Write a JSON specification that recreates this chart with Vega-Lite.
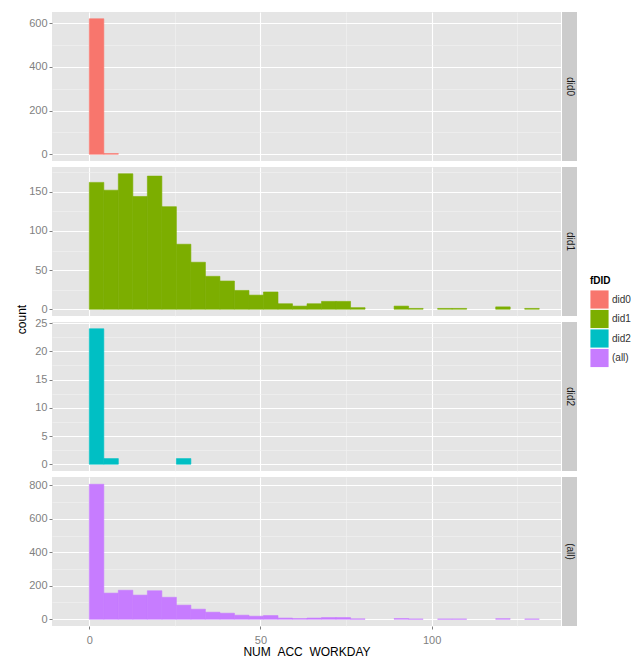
{
  "$schema": "https://vega.github.io/schema/vega-lite/v6.json",
  "padding": {"left": 15, "top": 12, "right": 0, "bottom": 0},
  "background": "white",
  "data": {"values": [
    {"f": "did0", "x0": 0, "x1": 4.24, "n": 620},
    {"f": "did0", "x0": 4.24, "x1": 8.48, "n": 3},
    {"f": "did1", "x0": 0, "x1": 4.24, "n": 162},
    {"f": "did1", "x0": 4.24, "x1": 8.48, "n": 152},
    {"f": "did1", "x0": 8.48, "x1": 12.72, "n": 173},
    {"f": "did1", "x0": 12.72, "x1": 16.96, "n": 144},
    {"f": "did1", "x0": 16.96, "x1": 21.2, "n": 170},
    {"f": "did1", "x0": 21.2, "x1": 25.44, "n": 131},
    {"f": "did1", "x0": 25.44, "x1": 29.68, "n": 83},
    {"f": "did1", "x0": 29.68, "x1": 33.92, "n": 60},
    {"f": "did1", "x0": 33.92, "x1": 38.16, "n": 42},
    {"f": "did1", "x0": 38.16, "x1": 42.4, "n": 36},
    {"f": "did1", "x0": 42.4, "x1": 46.64, "n": 24},
    {"f": "did1", "x0": 46.64, "x1": 50.88, "n": 18},
    {"f": "did1", "x0": 50.88, "x1": 55.12, "n": 22},
    {"f": "did1", "x0": 55.12, "x1": 59.36, "n": 7},
    {"f": "did1", "x0": 59.36, "x1": 63.6, "n": 4},
    {"f": "did1", "x0": 63.6, "x1": 67.84, "n": 7},
    {"f": "did1", "x0": 67.84, "x1": 72.08, "n": 10},
    {"f": "did1", "x0": 72.08, "x1": 76.32, "n": 10},
    {"f": "did1", "x0": 76.32, "x1": 80.56, "n": 2},
    {"f": "did1", "x0": 89.04, "x1": 93.28, "n": 4},
    {"f": "did1", "x0": 93.28, "x1": 97.52, "n": 1},
    {"f": "did1", "x0": 101.76, "x1": 106, "n": 1},
    {"f": "did1", "x0": 106, "x1": 110.24, "n": 1},
    {"f": "did1", "x0": 118.72, "x1": 122.96, "n": 3},
    {"f": "did1", "x0": 127.2, "x1": 131.44, "n": 1},
    {"f": "did2", "x0": 0, "x1": 4.24, "n": 24},
    {"f": "did2", "x0": 4.24, "x1": 8.48, "n": 1},
    {"f": "did2", "x0": 25.44, "x1": 29.68, "n": 1},
    {"f": "(all)", "x0": 0, "x1": 4.24, "n": 806},
    {"f": "(all)", "x0": 4.24, "x1": 8.48, "n": 156},
    {"f": "(all)", "x0": 8.48, "x1": 12.72, "n": 173},
    {"f": "(all)", "x0": 12.72, "x1": 16.96, "n": 144},
    {"f": "(all)", "x0": 16.96, "x1": 21.2, "n": 170},
    {"f": "(all)", "x0": 21.2, "x1": 25.44, "n": 131},
    {"f": "(all)", "x0": 25.44, "x1": 29.68, "n": 84},
    {"f": "(all)", "x0": 29.68, "x1": 33.92, "n": 60},
    {"f": "(all)", "x0": 33.92, "x1": 38.16, "n": 42},
    {"f": "(all)", "x0": 38.16, "x1": 42.4, "n": 36},
    {"f": "(all)", "x0": 42.4, "x1": 46.64, "n": 24},
    {"f": "(all)", "x0": 46.64, "x1": 50.88, "n": 18},
    {"f": "(all)", "x0": 50.88, "x1": 55.12, "n": 22},
    {"f": "(all)", "x0": 55.12, "x1": 59.36, "n": 7},
    {"f": "(all)", "x0": 59.36, "x1": 63.6, "n": 4},
    {"f": "(all)", "x0": 63.6, "x1": 67.84, "n": 7},
    {"f": "(all)", "x0": 67.84, "x1": 72.08, "n": 10},
    {"f": "(all)", "x0": 72.08, "x1": 76.32, "n": 10},
    {"f": "(all)", "x0": 76.32, "x1": 80.56, "n": 2},
    {"f": "(all)", "x0": 89.04, "x1": 93.28, "n": 4},
    {"f": "(all)", "x0": 93.28, "x1": 97.52, "n": 1},
    {"f": "(all)", "x0": 101.76, "x1": 106, "n": 1},
    {"f": "(all)", "x0": 106, "x1": 110.24, "n": 1},
    {"f": "(all)", "x0": 118.72, "x1": 122.96, "n": 3},
    {"f": "(all)", "x0": 127.2, "x1": 131.44, "n": 1}
  ]},
  "columns": 2,
  "align": "each",
  "bounds": "flush",
  "spacing": {"row": 6, "column": 1},
  "concat": [
    {
      "width": 509, "height": 149,
      "transform": [{"filter": "datum.f === 'did0'"}],
      "mark": {"type": "bar", "strokeWidth": 0.6},
      "encoding": {
        "x": {"field": "x0", "type": "quantitative", "scale": {"domain": [-10.9, 137.8], "nice": false, "zero": false},
              "axis": {"values": [0, 25, 50, 75, 100, 125], "labels": false, "ticks": false, "title": null,
                       "gridColor": {"condition": {"test": "datum.value % 50 != 0", "value": "#F2F2F2"}, "value": "#FFFFFF"},
                       "gridWidth": {"condition": {"test": "datum.value % 50 != 0", "value": 0.6}, "value": 1.1}}},
        "x2": {"field": "x1"},
        "y": {"field": "n", "type": "quantitative", "scale": {"domain": [-31, 651], "nice": false, "zero": false},
              "axis": {"values": [0, 100, 200, 300, 400, 500, 600], "title": null,
                       "labelExpr": "datum.value % 200 == 0 ? datum.label : ''",
                       "tickColor": {"condition": {"test": "datum.value % 200 != 0", "value": "transparent"}, "value": "#7F7F7F"},
                       "gridColor": {"condition": {"test": "datum.value % 200 != 0", "value": "#F2F2F2"}, "value": "#FFFFFF"},
                       "gridWidth": {"condition": {"test": "datum.value % 200 != 0", "value": 0.6}, "value": 1.1}}},
        "y2": {"datum": 0},
        "color": {"field": "f", "type": "nominal",
                  "scale": {"domain": ["did0", "did1", "did2", "(all)"], "range": ["#F8766D", "#7CAE00", "#00BFC4", "#C77CFF"]},
                  "legend": {"title": "fDID", "orient": "none", "legendX": 538, "legendY": 264}},
        "stroke": {"field": "f", "type": "nominal",
                  "scale": {"domain": ["did0", "did1", "did2", "(all)"], "range": ["#F8766D", "#7CAE00", "#00BFC4", "#C77CFF"]},
                  "legend": null}
      }
    },
    {
      "width": 15, "height": 149,
      "view": {"fill": "#CCCCCC", "stroke": null},
      "transform": [{"filter": "datum.f === 'did0'"}, {"aggregate": [{"op": "count", "as": "c"}], "groupby": ["f"]}],
      "mark": {"type": "text", "angle": 90, "fontSize": 10, "color": "#1A1A1A", "font": "Liberation Sans", "align": "center", "baseline": "middle"},
      "encoding": {
        "x": {"field": "f", "type": "nominal", "axis": null},
        "y": {"field": "f", "type": "nominal", "axis": null},
        "text": {"field": "f"}
      }
    },
    {
      "width": 509, "height": 149,
      "transform": [{"filter": "datum.f === 'did1'"}],
      "mark": {"type": "bar", "strokeWidth": 0.6},
      "encoding": {
        "x": {"field": "x0", "type": "quantitative", "scale": {"domain": [-10.9, 137.8], "nice": false, "zero": false},
              "axis": {"values": [0, 25, 50, 75, 100, 125], "labels": false, "ticks": false, "title": null,
                       "gridColor": {"condition": {"test": "datum.value % 50 != 0", "value": "#F2F2F2"}, "value": "#FFFFFF"},
                       "gridWidth": {"condition": {"test": "datum.value % 50 != 0", "value": 0.6}, "value": 1.1}}},
        "x2": {"field": "x1"},
        "y": {"field": "n", "type": "quantitative", "scale": {"domain": [-8.65, 181.65], "nice": false, "zero": false},
              "axis": {"values": [0, 25, 50, 75, 100, 125, 150, 175], "title": "count",
                       "titleX": -31, "titleY": 152, "titleAngle": -90, "titleAlign": "center", "titleBaseline": "middle",
                       "labelExpr": "datum.value % 50 == 0 ? datum.label : ''",
                       "tickColor": {"condition": {"test": "datum.value % 50 != 0", "value": "transparent"}, "value": "#7F7F7F"},
                       "gridColor": {"condition": {"test": "datum.value % 50 != 0", "value": "#F2F2F2"}, "value": "#FFFFFF"},
                       "gridWidth": {"condition": {"test": "datum.value % 50 != 0", "value": 0.6}, "value": 1.1}}},
        "y2": {"datum": 0},
        "color": {"field": "f", "type": "nominal",
                  "scale": {"domain": ["did0", "did1", "did2", "(all)"], "range": ["#F8766D", "#7CAE00", "#00BFC4", "#C77CFF"]},
                  "legend": {"title": "fDID", "orient": "none", "legendX": 538, "legendY": 264}},
        "stroke": {"field": "f", "type": "nominal",
                  "scale": {"domain": ["did0", "did1", "did2", "(all)"], "range": ["#F8766D", "#7CAE00", "#00BFC4", "#C77CFF"]},
                  "legend": null}
      }
    },
    {
      "width": 15, "height": 149,
      "view": {"fill": "#CCCCCC", "stroke": null},
      "transform": [{"filter": "datum.f === 'did1'"}, {"aggregate": [{"op": "count", "as": "c"}], "groupby": ["f"]}],
      "mark": {"type": "text", "angle": 90, "fontSize": 10, "color": "#1A1A1A", "font": "Liberation Sans", "align": "center", "baseline": "middle"},
      "encoding": {
        "x": {"field": "f", "type": "nominal", "axis": null},
        "y": {"field": "f", "type": "nominal", "axis": null},
        "text": {"field": "f"}
      }
    },
    {
      "width": 509, "height": 149,
      "transform": [{"filter": "datum.f === 'did2'"}],
      "mark": {"type": "bar", "strokeWidth": 0.6},
      "encoding": {
        "x": {"field": "x0", "type": "quantitative", "scale": {"domain": [-10.9, 137.8], "nice": false, "zero": false},
              "axis": {"values": [0, 25, 50, 75, 100, 125], "labels": false, "ticks": false, "title": null,
                       "gridColor": {"condition": {"test": "datum.value % 50 != 0", "value": "#F2F2F2"}, "value": "#FFFFFF"},
                       "gridWidth": {"condition": {"test": "datum.value % 50 != 0", "value": 0.6}, "value": 1.1}}},
        "x2": {"field": "x1"},
        "y": {"field": "n", "type": "quantitative", "scale": {"domain": [-1.2, 25.2], "nice": false, "zero": false},
              "axis": {"values": [0, 2.5, 5, 7.5, 10, 12.5, 15, 17.5, 20, 22.5, 25], "title": null,
                       "labelExpr": "datum.value % 5 == 0 ? datum.label : ''",
                       "tickColor": {"condition": {"test": "datum.value % 5 != 0", "value": "transparent"}, "value": "#7F7F7F"},
                       "gridColor": {"condition": {"test": "datum.value % 5 != 0", "value": "#F2F2F2"}, "value": "#FFFFFF"},
                       "gridWidth": {"condition": {"test": "datum.value % 5 != 0", "value": 0.6}, "value": 1.1}}},
        "y2": {"datum": 0},
        "color": {"field": "f", "type": "nominal",
                  "scale": {"domain": ["did0", "did1", "did2", "(all)"], "range": ["#F8766D", "#7CAE00", "#00BFC4", "#C77CFF"]},
                  "legend": {"title": "fDID", "orient": "none", "legendX": 538, "legendY": 264}},
        "stroke": {"field": "f", "type": "nominal",
                  "scale": {"domain": ["did0", "did1", "did2", "(all)"], "range": ["#F8766D", "#7CAE00", "#00BFC4", "#C77CFF"]},
                  "legend": null}
      }
    },
    {
      "width": 15, "height": 149,
      "view": {"fill": "#CCCCCC", "stroke": null},
      "transform": [{"filter": "datum.f === 'did2'"}, {"aggregate": [{"op": "count", "as": "c"}], "groupby": ["f"]}],
      "mark": {"type": "text", "angle": 90, "fontSize": 10, "color": "#1A1A1A", "font": "Liberation Sans", "align": "center", "baseline": "middle"},
      "encoding": {
        "x": {"field": "f", "type": "nominal", "axis": null},
        "y": {"field": "f", "type": "nominal", "axis": null},
        "text": {"field": "f"}
      }
    },
    {
      "width": 509, "height": 149,
      "transform": [{"filter": "datum.f === '(all)'"}],
      "mark": {"type": "bar", "strokeWidth": 0.6},
      "encoding": {
        "x": {"field": "x0", "type": "quantitative", "scale": {"domain": [-10.9, 137.8], "nice": false, "zero": false},
              "axis": {"values": [0, 25, 50, 75, 100, 125], "title": "NUM_ACC_WORKDAY",
                       "labelExpr": "datum.value % 50 == 0 ? datum.label : ''",
                       "tickColor": {"condition": {"test": "datum.value % 50 != 0", "value": "transparent"}, "value": "#7F7F7F"},
                       "labelPadding": 5, "titlePadding": 1,
                       "gridColor": {"condition": {"test": "datum.value % 50 != 0", "value": "#F2F2F2"}, "value": "#FFFFFF"},
                       "gridWidth": {"condition": {"test": "datum.value % 50 != 0", "value": 0.6}, "value": 1.1}}},
        "x2": {"field": "x1"},
        "y": {"field": "n", "type": "quantitative", "scale": {"domain": [-40.45, 849.45], "nice": false, "zero": false},
              "axis": {"values": [0, 100, 200, 300, 400, 500, 600, 700, 800], "title": null,
                       "labelExpr": "datum.value % 200 == 0 ? datum.label : ''",
                       "tickColor": {"condition": {"test": "datum.value % 200 != 0", "value": "transparent"}, "value": "#7F7F7F"},
                       "gridColor": {"condition": {"test": "datum.value % 200 != 0", "value": "#F2F2F2"}, "value": "#FFFFFF"},
                       "gridWidth": {"condition": {"test": "datum.value % 200 != 0", "value": 0.6}, "value": 1.1}}},
        "y2": {"datum": 0},
        "color": {"field": "f", "type": "nominal",
                  "scale": {"domain": ["did0", "did1", "did2", "(all)"], "range": ["#F8766D", "#7CAE00", "#00BFC4", "#C77CFF"]},
                  "legend": {"title": "fDID", "orient": "none", "legendX": 538, "legendY": 264}},
        "stroke": {"field": "f", "type": "nominal",
                  "scale": {"domain": ["did0", "did1", "did2", "(all)"], "range": ["#F8766D", "#7CAE00", "#00BFC4", "#C77CFF"]},
                  "legend": null}
      }
    },
    {
      "width": 15, "height": 149,
      "view": {"fill": "#CCCCCC", "stroke": null},
      "transform": [{"filter": "datum.f === '(all)'"}, {"aggregate": [{"op": "count", "as": "c"}], "groupby": ["f"]}],
      "mark": {"type": "text", "angle": 90, "fontSize": 10, "color": "#1A1A1A", "font": "Liberation Sans", "align": "center", "baseline": "middle"},
      "encoding": {
        "x": {"field": "f", "type": "nominal", "axis": null},
        "y": {"field": "f", "type": "nominal", "axis": null},
        "text": {"field": "f"}
      }
    }
  ],
  "config": {
    "view": {"fill": "#E5E5E5", "stroke": null},
    "axis": {
      "domain": false, "tickSize": 3, "tickWidth": 1, "labelPadding": 2,
      "labelFont": "Liberation Sans", "labelFontSize": 11, "labelColor": "#7F7F7F",
      "titleFont": "Liberation Sans", "titleFontSize": 12, "titleFontWeight": "normal", "titleColor": "#000000"
    },
    "legend": {
      "titleFont": "Liberation Sans", "titleFontSize": 10, "titleFontWeight": "bold", "titleColor": "#000000", "titlePadding": 4,
      "labelFont": "Liberation Sans", "labelFontSize": 10, "labelColor": "#333333", "labelOffset": 3,
      "symbolType": "square", "symbolSize": 330, "symbolStrokeWidth": 0, "symbolOpacity": 1, "rowPadding": 0.5
    },
    "bar": {"opacity": 1}
  }
}
